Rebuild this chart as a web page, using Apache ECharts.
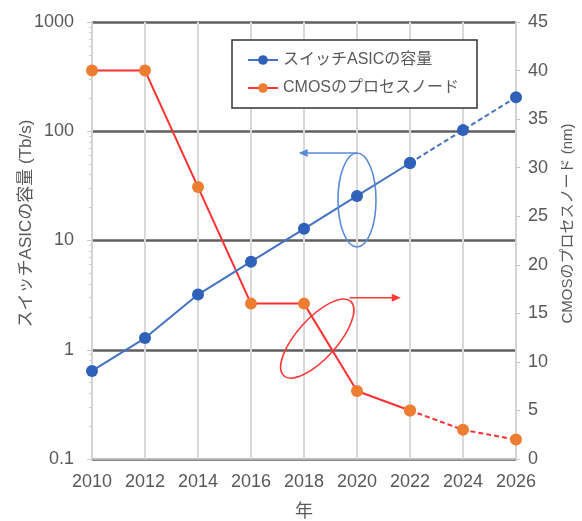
<!DOCTYPE html>
<html>
<head>
<meta charset="utf-8">
<script src="https://cdn.jsdelivr.net/npm/echarts@6/dist/echarts.min.js"></script>
<style>
  html, body { margin: 0; padding: 0; background: #fff; }
  #chart { width: 582px; height: 521px; }
</style>
</head>
<body>
<div id="chart"></div>
<script>
// ---- data ----
const years = [2010, 2012, 2014, 2016, 2018, 2020, 2022, 2024, 2026];
const asicCapacity = [0.64, 1.28, 3.2, 6.4, 12.8, 25.6, 51.2, 102.4, 204.8]; // Tb/s
const cmosNode = [40, 40, 28, 16, 16, 7, 5, 3, 2]; // nm
const lastActualYear = 2022; // solid up to here, dashed (forecast) afterwards
const leftTicks = [0.1, 1, 10, 100, 1000];
const seriesNames = ['スイッチASICの容量', 'CMOSのプロセスノード'];

const FONT = '"Liberation Sans", "Noto Sans CJK JP", sans-serif';
const TXT = '#595959';

function split(vals) {
  const solid = [], dashed = [];
  years.forEach((y, i) => {
    if (y <= lastActualYear) solid.push([y, vals[i]]);
    if (y >= lastActualYear) dashed.push([y, vals[i]]);
  });
  return { solid, dashed };
}
const asic = split(asicCapacity);
const cmos = split(cmosNode);

const BLUE_LINE = '#4472C4', BLUE_DOT = '#2F60BA';
const RED_LINE = '#FF3030', ORANGE_DOT = '#ED7D31';

const chart = echarts.init(document.getElementById('chart'), null, { renderer: 'canvas' });

chart.setOption({
  animation: false,
  backgroundColor: '#fff',
  textStyle: { fontFamily: FONT },
  grid: { left: 92, right: 66, top: 22, bottom: 62, containLabel: false, outerBoundsMode: 'none' },
  legend: {
    data: seriesNames,
    orient: 'vertical',
    left: 232, top: 40,
    backgroundColor: '#fff',
    borderColor: '#333', borderWidth: 1.5,
    padding: [12, 18, 12, 15],
    itemGap: 12,
    itemWidth: 30, itemHeight: 12,
    textStyle: { fontFamily: FONT, fontSize: 16, color: TXT }
  },
  xAxis: {
    type: 'value', min: 2010, max: 2026, interval: 2,
    name: '年', nameLocation: 'middle', nameGap: 44, nameMoveOverlap: false,
    nameTextStyle: { fontSize: 18, color: TXT, fontFamily: FONT },
    axisLine: { show: true, lineStyle: { color: '#d0d0d0', width: 1.5 } },
    axisTick: { show: false },
    axisLabel: { fontSize: 18, color: TXT, margin: 14, formatter: v => String(v) },
    splitLine: { show: true, lineStyle: { color: '#d9d9d9', width: 2 } }
  },
  yAxis: [
    {
      type: 'log', logBase: 10, min: 0.1, max: 1000,
      name: 'スイッチASICの容量 (Tb/s)', nameLocation: 'middle', nameGap: 57,
      nameRotate: 90, nameMoveOverlap: false,
      nameTextStyle: { fontSize: 17, color: TXT, fontFamily: FONT, padding: [0, 0, 0, 34] },
      axisLine: { show: true, lineStyle: { color: '#d0d0d0', width: 1.5 } },
      axisTick: { show: true, length: 5, lineStyle: { color: '#c8c8c8' } },
      minorTick: { show: true, splitNumber: 9, length: 3, lineStyle: { color: '#d0d0d0' } },
      axisLabel: {
        fontSize: 18, color: TXT, margin: 18,
        formatter: v => { const t = leftTicks.find(k => Math.abs(k - v) / k < 1e-6); return t === undefined ? '' : String(t); }
      },
      splitLine: { show: true, lineStyle: { color: '#5f5f5f', width: 2.5 } }
    },
    {
      type: 'value', min: 0, max: 45, interval: 5, position: 'right',
      name: 'CMOSのプロセスノード (nm)', nameLocation: 'middle', nameGap: 44,
      nameRotate: 90, nameMoveOverlap: false,
      nameTextStyle: { fontSize: 15, color: TXT, fontFamily: FONT, padding: [0, 0, 0, 34] },
      axisLine: { show: true, lineStyle: { color: '#d0d0d0', width: 1.5 } },
      axisTick: { show: true, length: 4, inside: false, lineStyle: { color: '#c8c8c8' } },
      axisLabel: { fontSize: 18, color: TXT, margin: 12 },
      splitLine: { show: false }
    }
  ],
  series: [
    {
      name: seriesNames[0], type: 'line', yAxisIndex: 0, z: 5,
      data: asic.solid, symbol: 'circle', symbolSize: 12,
      lineStyle: { color: BLUE_LINE, width: 2 },
      itemStyle: { color: BLUE_DOT }
    },
    {
      name: seriesNames[0] + '(予測)', type: 'line', yAxisIndex: 0, z: 5,
      data: asic.dashed, symbol: 'circle', symbolSize: 12,
      lineStyle: { color: BLUE_LINE, width: 2, type: [5, 3] },
      itemStyle: { color: BLUE_DOT }
    },
    {
      name: seriesNames[1], type: 'line', yAxisIndex: 1, z: 4,
      data: cmos.solid, symbol: 'circle', symbolSize: 12,
      lineStyle: { color: RED_LINE, width: 2 },
      itemStyle: { color: ORANGE_DOT }
    },
    {
      name: seriesNames[1] + '(予測)', type: 'line', yAxisIndex: 1, z: 4,
      data: cmos.dashed, symbol: 'circle', symbolSize: 12,
      lineStyle: { color: RED_LINE, width: 2, type: [5, 3] },
      itemStyle: { color: ORANGE_DOT }
    }
  ]
});

// ---- annotations (ellipses and arrows), anchored in data coordinates ----
const pL = (x, y) => chart.convertToPixel({ xAxisIndex: 0, yAxisIndex: 0 }, [x, y]);
const pR = (x, y) => chart.convertToPixel({ xAxisIndex: 0, yAxisIndex: 1 }, [x, y]);

const bc = pL(2020, 23.5);          // blue ellipse center
const bRx = 19, bRy = 47;
const bArrowEnd = pL(2017.8, 1);    // only x used
const rc = pR(2018.5, 12.4);        // red ellipse center
const rArrowStart = pR(2019.72, 16.6);
const rArrowEnd = pR(2021.65, 16.6);
const ANN_BLUE = '#5A8AD8', ANN_RED = '#FF3A3A';

chart.setOption({
  graphic: [
    { type: 'ellipse', shape: { cx: bc[0], cy: bc[1], rx: bRx, ry: bRy },
      style: { fill: 'none', stroke: ANN_BLUE, lineWidth: 1.6 }, z: 10 },
    { type: 'line', shape: { x1: bc[0], y1: bc[1] - bRy, x2: bArrowEnd[0] + 6, y2: bc[1] - bRy },
      style: { stroke: ANN_BLUE, lineWidth: 1.4 }, z: 10 },
    { type: 'polygon', shape: { points: [[bArrowEnd[0], bc[1] - bRy], [bArrowEnd[0] + 9, bc[1] - bRy - 4], [bArrowEnd[0] + 9, bc[1] - bRy + 4]] },
      style: { fill: ANN_BLUE }, z: 10 },
    { type: 'ellipse', shape: { cx: 0, cy: 0, rx: 50, ry: 20 },
      x: rc[0], y: rc[1], rotation: 48 * Math.PI / 180,
      style: { fill: 'none', stroke: ANN_RED, lineWidth: 1.6 }, z: 10 },
    { type: 'line', shape: { x1: rArrowStart[0], y1: rArrowStart[1], x2: rArrowEnd[0] - 6, y2: rArrowEnd[1] },
      style: { stroke: ANN_RED, lineWidth: 1.4 }, z: 10 },
    { type: 'polygon', shape: { points: [[rArrowEnd[0], rArrowEnd[1]], [rArrowEnd[0] - 9, rArrowEnd[1] - 4], [rArrowEnd[0] - 9, rArrowEnd[1] + 4]] },
      style: { fill: ANN_RED }, z: 10 }
  ]
});
</script>
</body>
</html>
